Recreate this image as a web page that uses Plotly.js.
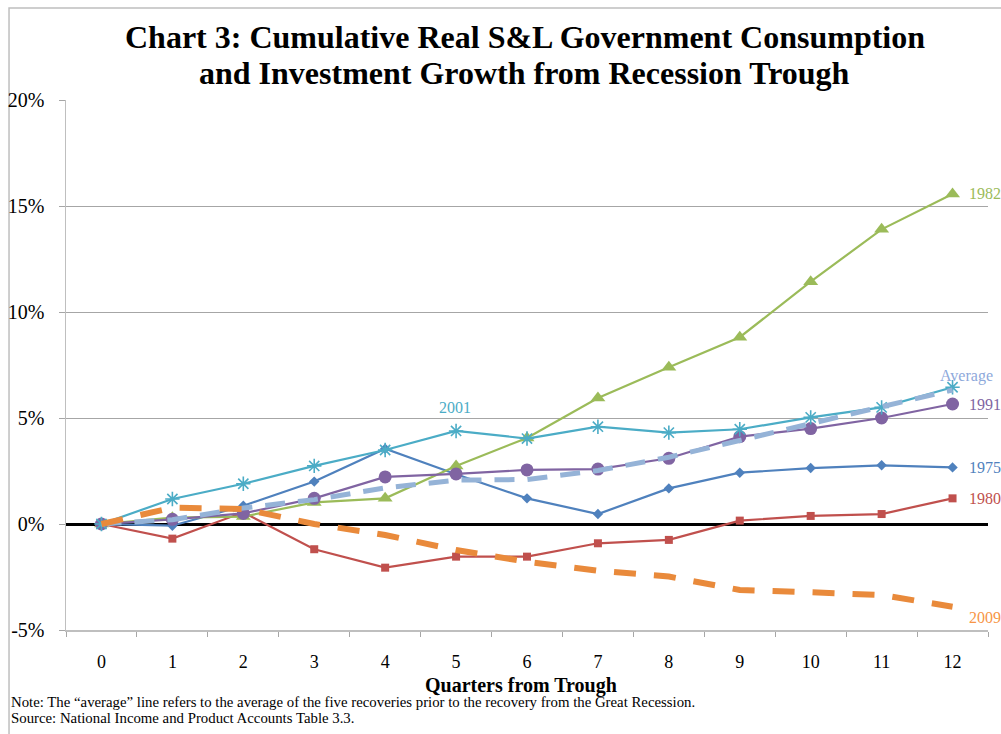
<!DOCTYPE html>
<html>
<head>
<meta charset="utf-8">
<script src="https://cdn.plot.ly/plotly-3.0.1.min.js"></script>
<style>html,body{margin:0;padding:0;background:#fff;}#chart{width:1001px;height:734px;}</style>
</head>
<body>
<div id="chart"></div>
<script>
const quarters = ['0','1','2','3','4','5','6','7','8','9','10','11','12'];
const s1975 = [0, -0.08, 0.86, 2.0, 3.55, 2.35, 1.21, 0.47, 1.68, 2.42, 2.64, 2.77, 2.67];
const s1980 = [0, -0.69, 0.55, -1.19, -2.06, -1.54, -1.54, -0.91, -0.75, 0.16, 0.38, 0.47, 1.21];
const s1982 = [0, 0.3, 0.35, 1.02, 1.21, 2.74, 4.06, 5.94, 7.39, 8.81, 11.43, 13.9, 15.57];
const s1991 = [0, 0.22, 0.5, 1.21, 2.22, 2.36, 2.55, 2.59, 3.1, 4.12, 4.5, 5.0, 5.66];
const s2001 = [0, 1.18, 1.9, 2.74, 3.49, 4.39, 4.03, 4.59, 4.31, 4.47, 5.03, 5.5, 6.45];
const sAvg  = [0, 0.2, 0.75, 1.15, 1.7, 2.07, 2.1, 2.52, 3.15, 3.96, 4.78, 5.53, 6.32];
const s2009 = [0, 0.77, 0.71, 0.0, -0.52, -1.23, -1.78, -2.2, -2.48, -3.11, -3.22, -3.35, -3.9];
const yTicks = [-5, 0, 5, 10, 15, 20];
const yTickText = ['-5%', '0%', '5%', '10%', '15%', '20%'];
const titleLines = ['Chart 3: Cumulative Real S&amp;L Government Consumption', 'and Investment Growth from Recession Trough'];
const xTitle = 'Quarters from Trough';
const notes = ['Note: The \u201caverage\u201d line refers to the average of the five recoveries prior to the recovery from the Great Recession.',
               'Source: National Income and Product Accounts Table 3.3.'];

const serif = 'Liberation Serif, Times New Roman, serif';
const C = {c1975:'#4F81BD', c1980:'#C0504D', c1982:'#9BBB59', c1991:'#8064A2', c2001:'#4BACC6', cAvg:'#95B3D7', c2009:'#E98A3B'};

function mk(y, color, sym, size, name){
  return {x: quarters, y: y, type:'scatter', mode:'lines+markers', name: name,
    line:{color: color, width:2.2}, marker:{symbol: sym, size: size, color: color, line:{color: color, width: sym==='asterisk-open'?1.6:0}}};
}
const traces = [
  mk(s1975, C.c1975, 'diamond', 8, '1975'),
  mk(s1980, C.c1980, 'square', 8, '1980'),
  mk(s1982, C.c1982, 'triangle-up', 13, '1982'),
  mk(s1991, C.c1991, 'circle', 13, '1991'),
  mk(s2001, C.c2001, 'asterisk-open', 12, '2001'),
  {x: quarters, y: sAvg, type:'scatter', mode:'lines', name:'Average', line:{color:C.cAvg, width:5, dash:'20px,13px'}},
  {x: quarters, y: s2009, type:'scatter', mode:'lines', name:'2009', line:{color:C.c2009, width:6, dash:'22px,18px'}}
];

function lab(x, y, text, color, xanchor, xshift, yanchor){
  return {x: x, y: y, xref:'x', yref:'y', text: text, showarrow:false, xanchor: xanchor, yanchor: yanchor || 'middle', xshift: xshift,
    font:{family: serif, size:16, color: color}};
}
function paperText(x, y, text, size, xanchor, bold){
  return {x: x, y: y, xref:'paper', yref:'paper', text: text, showarrow:false, xanchor: xanchor, yanchor:'middle', align:'left',
    font:{family: serif, size: size, color:'#000', weight: bold ? 'bold' : 'normal'}};
}
const annotations = [
  lab('12', s1982[12], '1982', C.c1982, 'left', 14),
  lab('12', s1991[12], '1991', C.c1991, 'left', 14),
  lab('12', s1975[12], '1975', C.c1975, 'left', 14),
  lab('12', s1980[12], '1980', C.c1980, 'left', 14),
  lab('12', 7.0, 'Average', '#8EA9DB', 'center', 14),
  lab('12', -4.4, '2009', '#F79646', 'left', 14),
  lab('5', 5.0, '2001', C.c2001, 'center', -1, 'bottom'),
  paperText(0.4978, 1.1189, titleLines[0], 32, 'center', true),
  paperText(0.4978, 1.0509, titleLines[1], 32, 'center', true),
  paperText(0.4935, -0.1038, xTitle, 20, 'center', true),
  paperText(-0.0618, -0.1358, notes[0], 14.8, 'left', false),
  paperText(-0.0618, -0.166, notes[1], 14.8, 'left', false)
];

const layout = {
  width:1001, height:734,
  margin:{l:66, r:13, t:100, b:104},
  paper_bgcolor:'#fff', plot_bgcolor:'#fff',
  showlegend:false,
  xaxis:{type:'category', range:[-0.5, 12.5], showgrid:false, zeroline:false,
    showline:true, linecolor:'#BFBFBF', linewidth:1.5, ticks:'outside', tickson:'boundaries', ticklen:5, tickcolor:'#A6A6A6',
    tickfont:{family: serif, size:18, color:'#000'}, ticklabelstandoff:15},
  yaxis:{range:[-5, 20], tickvals: yTicks, ticktext: yTickText, showgrid:true, gridcolor:'#A6A6A6', gridwidth:1,
    zeroline:true, zerolinecolor:'#000', zerolinewidth:3,
    showline:true, linecolor:'#BFBFBF', linewidth:1.5, ticks:'outside', ticklen:6, tickcolor:'#A6A6A6',
    tickfont:{family: serif, size:20, color:'#000'}, ticklabelstandoff:10},
  annotations: annotations,
  shapes:[{type:'rect', xref:'paper', yref:'paper', x0:-0.0618, x1:1.05, y0:-0.25, y1:1.1736, line:{color:'#BFBFBF', width:1.5}, fillcolor:'rgba(0,0,0,0)', layer:'below'}]
};
Plotly.newPlot('chart', traces, layout, {displayModeBar:false, staticPlot:true});
</script>
</body>
</html>
